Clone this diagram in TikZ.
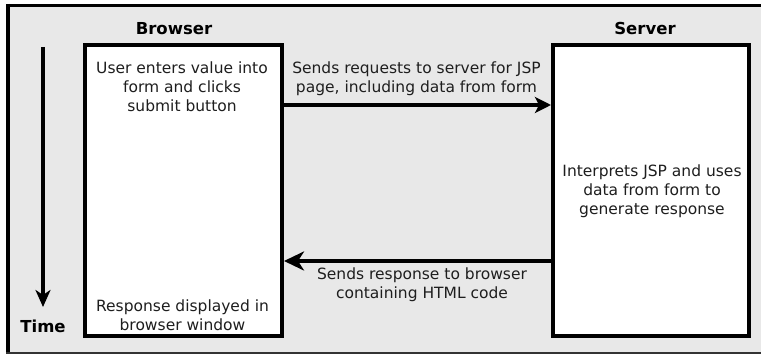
\documentclass[tikz,border=0pt]{standalone}
\usepackage{fontspec}
\setmainfont{DejaVu Sans}
\usetikzlibrary{arrows.meta}
\definecolor{bg}{RGB}{232,232,232}
\definecolor{txt}{RGB}{30,30,30}
\tikzset{
  panel/.style={draw=black, fill=white, line width=4pt, minimum width=197pt, minimum height=291pt, inner sep=0pt},
  body/.style={align=center, inner sep=0pt, text=txt, font=\fontsize{15.5}{19}\selectfont},
  title/.style={anchor=base, inner sep=0pt, font=\fontsize{16.5}{18}\selectfont\bfseries},
  flow/.style={line width=4pt},
}
\begin{document}
\begin{tikzpicture}[x=1pt,y=-1pt]
\useasboundingbox (0,0) rectangle (761,355);
\fill[white] (0,0) rectangle (761,355);
\fill[bg] (6,5) rectangle (761,353);
\draw[line width=3pt] (6,5.5) -- (761,5.5);
\draw[line width=4pt] (8,4) -- (8,353);
\draw[line width=1.5pt, black!80] (6,352.8) -- (761,352.8);

\node[panel] (browser) at (183.5,190.5) {};
\node[panel, minimum width=196pt] (server) at (651,190.5) {};

\node[title] (btitle) at (174,34.5) {Browser};
\node[title] (stitle) at (645,35) {Server};
\node[title] (ttitle) at (43,332.7) {Time};

\node[body] (btext) at (182,87) {User enters value into\\form and clicks\\submit button};
\node[body] (rtext) at (182.5,315.5) {Response displayed in\\browser window};
\node[body] (stext) at (652,191) {Interprets JSP and uses\\data from form to\\generate response};
\node[body] (reqlabel) at (416.5,79) {Sends requests to server for JSP\\page, including data from form};
\node[body] (reslabel) at (422,285) {Sends response to browser\\containing HTML code};

\coordinate (ry) at (0,105);
\coordinate (sy) at (0,261);
\draw[flow, -{Stealth[length=16pt,width=16pt,inset=4pt]}] (browser.east |- ry) -- (server.west |- ry);
\draw[flow, -{Stealth[length=20pt,width=19pt,inset=6pt]}] (server.west |- sy) -- (browser.east |- sy);

\coordinate (t1) at (43,47);
\coordinate (t2) at (43,307);
\draw[flow, -{Stealth[length=17pt,width=15pt,inset=5pt]}] (t1) -- (t2);
\end{tikzpicture}
\end{document}
